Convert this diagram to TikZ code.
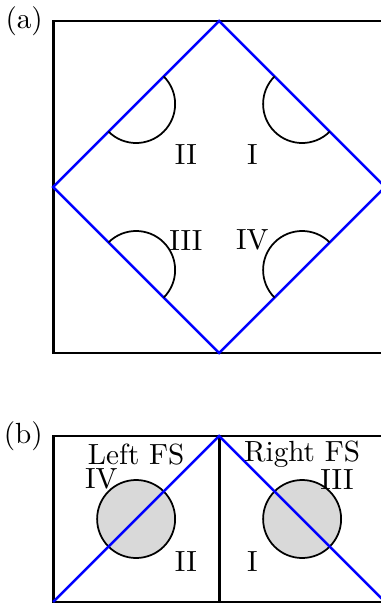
\documentclass[tikz,border=0pt]{standalone}
\usepackage{tikz}
\usetikzlibrary{arrows.meta}
\begin{document}
\begin{tikzpicture}
\useasboundingbox(-0.64,-3.012)rectangle(3.94,4.253);
% (a)
\draw[line width=1pt](0,0)rectangle(4,4);
\draw[thick,blue](2,4)--(4,2)--(2,0)--(0,2)--cycle;
\draw[semithick](1,3)++(45:0.47)arc(45:-135:0.47);
\draw[semithick](3,3)++(135:0.47)arc(135:315:0.47);
\draw[semithick](1,1)++(-45:0.47)arc(-45:135:0.47);
\draw[semithick](3,1)++(45:0.47)arc(45:225:0.47);
\draw(0,4)node[left](la){(a)}
(1.6,2.39)node(a2){II}
(2.4,2.39)node(a1){I}
(1.6,1.36)node(a3){III}
(2.4,1.36)node(a4){IV};
% (b)
\draw[line width=1pt](0,-3)rectangle(4,-1);
\draw[line width=1pt](2,-1)--(2,-3);
\path[fill=black!15](1,-2)circle(0.47)(3,-2)circle(0.47);
\draw[semithick](1,-2)circle(0.47)(3,-2)circle(0.47);
\draw[thick,blue](0,-3)--(2,-1)--(4,-3);
\draw(0,-1)node[left](lb){(b)}
(1,-1.22)node[inner sep=1pt](left){Left FS}
(3,-1.22)node[inner sep=1pt](right){Right FS}
(0.58,-1.52)node[inner sep=1pt](b4){IV}
(3.42,-1.52)node[inner sep=1pt](b3){III}
(1.6,-2.51)node(b2){II}
(2.4,-2.51)node(b1){I};
\end{tikzpicture}
\end{document}
